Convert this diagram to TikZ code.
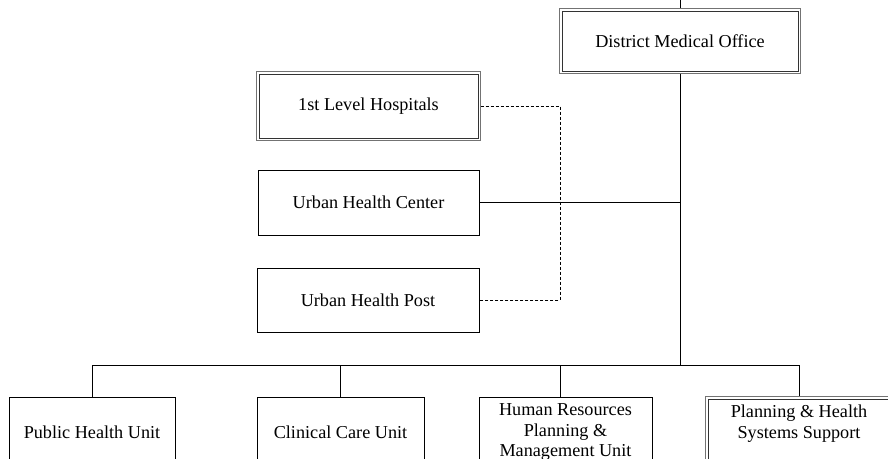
\documentclass[tikz,border=0pt]{standalone}
\usepackage{fontspec}
\setmainfont{Liberation Serif}
\usetikzlibrary{positioning}

\tikzstyle{unit} = [draw,line width=0.8pt,inner sep=2pt,align=center,font=\fontsize{18.2}{20.5}\selectfont]
\tikzstyle{double unit} = [unit,draw=black!80,line width=0.7pt]
\tikzstyle{frame} = [draw,black!55,line width=1pt]
\tikzstyle{link} = [draw,line width=0.8pt,-]
\tikzstyle{dash link} = [draw,line width=0.7pt,densely dashed,-]

\begin{document}
\begin{tikzpicture}[x=1pt,y=-1pt]
      \clip (0,0) rectangle (888,458);
      \useasboundingbox (0,0) rectangle (888,458);
      %nodes
      \foreach \nodename/\x/\y/\w/\h/\kind/\name in {
        dmo/680/41/236/60/double unit/District Medical Office,
        hosp/368.5/106/219/64/double unit/1st Level Hospitals,
        uhc/368.5/202.5/221/65/unit/Urban Health Center,
        uhp/368/300/222/64/unit/Urban Health Post,
        phu/92/432/166/70/unit/Public Health Unit,
        ccu/340.5/432/167/70/unit/Clinical Care Unit,
        hru/565.5/432/173/70/unit/Human Resources\\Planning \&\\Management Unit,
        phs/799/432/182/66/double unit/Planning \& Health\\Systems Support\\~}
      {
        \node[\kind, minimum width=\w pt, minimum height=\h pt] (\nodename) at (\x,\y) {\name};
      };
      %outer frames
      \foreach \nodename in {dmo, hosp, phs}
      {
        \path[frame] ([shift={(-2.2,-2.2)}]\nodename.north west) rectangle ([shift={(2.2,2.2)}]\nodename.south east);
      };
      \coordinate (top) at (680,0);
      \coordinate (trunk) at (680,365);
      \coordinate (busL) at (92,365);
      \coordinate (busR) at (799,365);
      \coordinate (hrdrop) at (560,365);
      \coordinate (tie) at (560,200);
      %edges
      \path[link] (top) -- ([yshift=2.2pt]dmo.north);
      \path[link] ([yshift=-2.2pt]dmo.south) -- (trunk);
      \path[link] (busL) -- (busR);
      \path[link] (uhc.east) -- (uhc.east -| trunk);
      \foreach \unitname in {phu, ccu}
      {
        \path[link] (\unitname.north |- busL) -- (\unitname.north);
      };
      \path[link] (busR) -- ([yshift=2.2pt]phs.north);
      \path[link] (hrdrop) -- (hrdrop |- hru.north);
      \path[dash link] ([xshift=2.2pt]hosp.east) -- (hosp.east -| tie) |- (uhp.east);
    \end{tikzpicture}
\end{document}
